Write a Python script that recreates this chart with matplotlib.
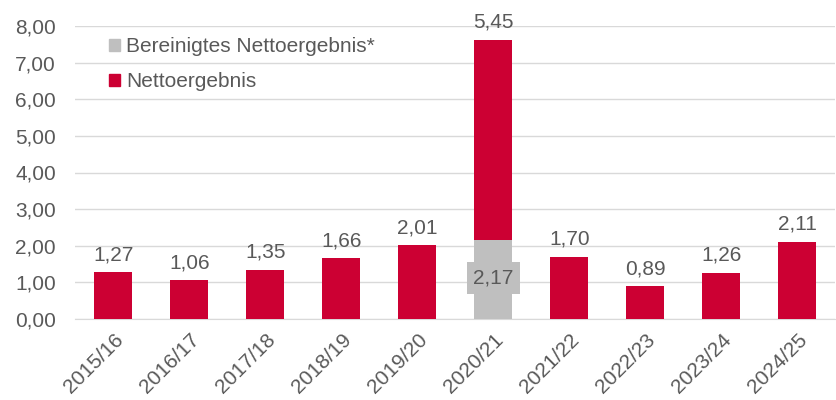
import matplotlib
matplotlib.use("Agg")
import matplotlib.pyplot as plt
from matplotlib.patches import Patch

categories = ["2015/16", "2016/17", "2017/18", "2018/19", "2019/20",
              "2020/21", "2021/22", "2022/23", "2023/24", "2024/25"]
adjusted = [0, 0, 0, 0, 0, 2.17, 0, 0, 0, 0]
net = [1.27, 1.06, 1.35, 1.66, 2.01, 5.45, 1.70, 0.89, 1.26, 2.11]
yticks = [0, 1, 2, 3, 4, 5, 6, 7, 8]

RED = "#CC0033"
GREY = "#BFBFBF"
TXT = "#595959"
FS = 15

plt.rcParams['font.family'] = ['Liberation Sans', 'DejaVu Sans']

fig = plt.figure(figsize=(8.37, 4.0), dpi=100)
ax = fig.add_axes([0.09, 0.2025, 0.908, 0.7325])

x = list(range(len(categories)))
ax.bar(x, adjusted, width=0.5, color=GREY, zorder=3)
ax.bar(x, net, width=0.5, bottom=adjusted, color=RED, zorder=3)

for i in x:
    top = adjusted[i] + net[i]
    ax.text(i, min(top + 0.22, 7.85), f"{net[i]:.2f}".replace(".", ","), ha="center",
            va="bottom", fontsize=FS, color=TXT)
    if adjusted[i] > 0:
        ax.text(i, 1.12, f"{adjusted[i]:.2f}".replace(".", ","), ha="center", va="center",
                fontsize=FS, color=TXT, zorder=4,
                bbox=dict(boxstyle="square,pad=0.3", fc=GREY, ec="none"))

ax.set_xlim(-0.5, len(categories) - 0.5)
ax.set_ylim(0, 8)
ax.set_yticks(yticks)
ax.set_yticklabels([f"{v:.2f}".replace(".", ",") for v in yticks], fontsize=FS, color=TXT)
ax.set_xticks(x)
ax.set_xticklabels(categories, rotation=45, ha="right", rotation_mode="anchor",
                   fontsize=FS, color=TXT)
ax.tick_params(axis="both", length=0)
ax.tick_params(axis="y", pad=14)
ax.tick_params(axis="x", pad=8)
ax.grid(axis="y", color="#D9D9D9", linewidth=1, zorder=0)
for s in ["top", "right", "left"]:
    ax.spines[s].set_visible(False)
ax.spines["bottom"].set_color("#D9D9D9")

handles = [Patch(color=GREY, label="Bereinigtes Nettoergebnis*"),
           Patch(color=RED, label="Nettoergebnis")]
leg = ax.legend(handles=handles, loc="upper left", bbox_to_anchor=(0.02, 1.025),
                frameon=False, fontsize=FS, handlelength=0.5, handleheight=0.5,
                handletextpad=0.3, labelspacing=0.75)
for t in leg.get_texts():
    t.set_color(TXT)

fig.savefig("out.png", dpi=100)
